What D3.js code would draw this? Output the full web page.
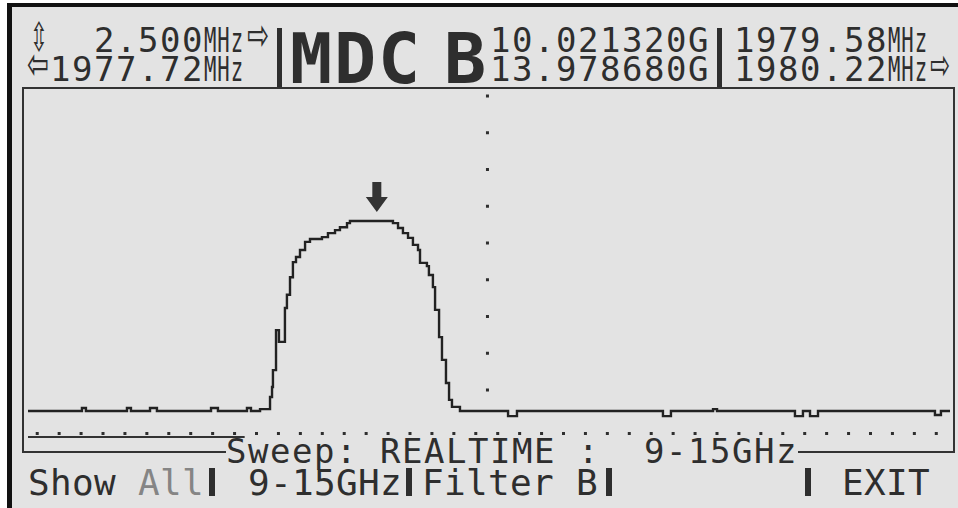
<!DOCTYPE html>
<html>
<head>
<meta charset="utf-8">
<script src="https://cdn.jsdelivr.net/npm/d3@7"></script>
<style>
  body { margin: 0; background: #fff; }
  svg text { font-family: "DejaVu Sans Mono", monospace; white-space: pre; }
</style>
</head>
<body>
<div id="screen"></div>
<script>
// trace breakpoints (frequency GHz, level dB)
var traceFreq = [9.000, 9.351, 9.377, 9.644, 9.670, 9.794, 9.839, 10.191, 10.236, 10.425, 10.451,
  10.510, 10.575, 10.588, 10.594, 10.614, 10.633, 10.672, 10.685, 10.705, 10.724, 10.744, 10.770,
  10.803, 10.835, 10.913, 10.952, 10.998, 11.030, 11.076, 11.095, 11.375, 11.408, 11.440, 11.473,
  11.505, 11.538, 11.551, 11.596, 11.609, 11.635, 11.649, 11.675, 11.694, 11.720, 11.740, 11.759,
  11.811, 12.124, 12.182, 13.132, 13.184, 13.458, 13.484, 13.991, 14.043, 14.089, 14.141, 14.902,
  14.941, 15.000];
var traceLevel = [-95.7, -94.9, -95.7, -94.9, -95.7, -94.9, -95.7, -94.9, -95.7, -94.9, -95.7,
  -95.2, -91.9, -89.2, -84.6, -73.7, -76.9, -67.7, -64.1, -59.3, -55.2, -53.8, -51.9,
  -49.7, -48.9, -48.4, -47.3, -46.5, -45.7, -44.6, -44.0, -44.6, -45.9, -47.3, -48.6,
  -50.5, -51.9, -55.4, -56.3, -58.7, -62.0, -68.2, -75.6, -81.8, -88.1, -92.7, -94.6,
  -95.7, -97.1, -95.7, -97.1, -95.7, -95.2, -95.7, -97.1, -95.7, -97.1, -95.7, -96.8,
  -95.7, -95.7];

var gridLevels = [-10, -20, -30, -40, -50, -60, -70, -80, -90];
var centerFreq = 11.99;
var markerFreq = 11.27;
var sweepTicks = d3.range(42).map(k => 9.06 + k * 0.1427);
var sweepDone = 10.41;   // solid part of the sweep bar

// screen texts
var spanText = "2.500";
var startText = "1977.72";
var markAText = "10.021320G";
var markBText = "13.978680G";
var freqAText = "1979.58";
var freqBText = "1980.22";
var sweepText = "Sweep: REALTIME :  9-15GHz";
var menuItems = ["Show", "All", "9-15GHz", "Filter B", "EXIT"];

var svgWidth = 958;
var svgHeight = 508;
var ink = "#2e2e2e";
var lcd = "#e3e3e3";

var plot = { left: 23, top: 88, right: 954, bottom: 452 };

var svg = d3.select("#screen")
  .append("svg")
  .attr("width", svgWidth)
  .attr("height", svgHeight);

// black bezel on top and left, lcd face
svg.append("rect").attr("x", 7).attr("y", 3).attr("width", svgWidth - 7).attr("height", svgHeight - 3).attr("fill", "#111");
svg.append("rect").attr("x", 12).attr("y", 7).attr("width", svgWidth - 12).attr("height", svgHeight - 7).attr("fill", lcd);

var xScale = d3.scaleLinear().domain([9, 15]).range([28, 950]);
var yScale = d3.scaleLinear().domain([-100, 0]).range([426.75, 59.25]);

// character grid helper, 22px cells starting at x=28
function cell(c) { return 28 + c * 22; }
function txt(str, c, base, size, opts) {
  opts = opts || {};
  var t = svg.append("text")
    .attr("x", opts.x != null ? opts.x : cell(c))
    .attr("y", base)
    .attr("font-size", size)
    .attr("fill", opts.fill || ink)
    .style("letter-spacing", (opts.pitch || 22) - 0.602 * size + "px")
    .text(str);
  if (opts.weight) t.attr("font-weight", opts.weight);
  if (opts.family) t.style("font-family", opts.family).style("letter-spacing", "0px");
  if (opts.len) t.attr("textLength", opts.len).attr("lengthAdjust", "spacingAndGlyphs");
  return t;
}

// header, left block
txt("\u21F3", 0, 51, 40, { family: "DejaVu Sans", x: 30, len: 18 });
txt(spanText, 3, 52, 34);
txt("MHz", 8, 52, 34, { len: 40 });
txt("\u21E8", 10, 50, 44, { family: "DejaVu Sans", x: 247, len: 22 });
txt("\u21E6", 0, 79, 44, { family: "DejaVu Sans", x: 27, len: 22 });
txt(startText, 1, 81, 34);
txt("MHz", 8, 81, 34, { len: 40 });

// separators in the header
svg.append("rect").attr("x", 277).attr("y", 28).attr("width", 5).attr("height", 60).attr("fill", ink);
svg.append("rect").attr("x", 717).attr("y", 28).attr("width", 5).attr("height", 60).attr("fill", ink);

// big title
txt("MDC", 0, 83, 70, { x: 290, pitch: 44, weight: "bold" });
txt("B", 0, 83, 70, { x: 444, pitch: 44, weight: "bold" });

// marker frequencies
txt(markAText, 21, 52, 34);
txt(markBText, 21, 81, 34);
txt(freqAText, 32, 52, 34, { x: 734 });
txt("MHz", 39, 52, 34, { len: 40, x: 888 });
txt(freqBText, 32, 81, 34, { x: 734 });
txt("MHz", 39, 81, 34, { len: 40, x: 888 });
txt("\u21E8", 0, 79, 42, { family: "DejaVu Sans", x: 930, len: 20 });

// plot frame (bottom edge broken by the sweep label)
var frame = svg.append("g").attr("stroke", "#333").attr("stroke-width", 2).attr("fill", "none");
frame.append("path").attr("d",
  `M${plot.left + 203},${plot.bottom} H${plot.left} V${plot.top} H${plot.right} V${plot.bottom} H798`);

// center dotted line
svg.append("g").selectAll("rect")
  .data(gridLevels)
  .enter()
  .append("rect")
  .attr("x", xScale(centerFreq) - 1.5)
  .attr("y", d => yScale(d) - 1.5)
  .attr("width", 3)
  .attr("height", 3)
  .attr("fill", ink);

// sweep progress bar with tick dots
svg.append("line")
  .attr("x1", xScale(9)).attr("x2", xScale(sweepDone))
  .attr("y1", 437).attr("y2", 437)
  .attr("stroke", "#333").attr("stroke-width", 2);
svg.append("g").selectAll("rect")
  .data(sweepTicks)
  .enter()
  .append("rect")
  .attr("x", d => xScale(d) - 1.5)
  .attr("y", 432)
  .attr("width", 3)
  .attr("height", 3)
  .attr("fill", ink);

// spectrum trace
var trace = traceFreq.map((f, i) => ({ f: f, l: traceLevel[i] }));
var traceLine = d3.line()
  .x(d => xScale(d.f))
  .y(d => yScale(d.l))
  .curve(d3.curveStepAfter);
svg.append("path")
  .datum(trace)
  .attr("d", traceLine)
  .attr("fill", "none")
  .attr("stroke", "#222")
  .attr("stroke-width", 2.4);

// peak marker arrow
var peak = d3.max(traceLevel);
var mx = xScale(markerFreq);
var my = yScale(peak) - 9;
svg.append("path")
  .attr("d", `M${mx - 4.5},${my - 30} H${mx + 4.5} V${my - 15} H${mx + 11} L${mx},${my} L${mx - 11},${my - 15} H${mx - 4.5} Z`)
  .attr("fill", "#333");

// sweep label sitting on the frame
txt(sweepText, 9, 463, 34);

// soft-key menu
txt(menuItems[0], 0, 495, 36);
txt(menuItems[1], 5, 495, 36, { fill: "#858585" });
txt(menuItems[2], 10, 495, 36);
txt(menuItems[3], 18, 495, 36, { x: 422 });
txt(menuItems[4], 37, 495, 36);
[209, 406, 606, 805].forEach(function(bx) {
  svg.append("rect").attr("x", bx).attr("y", 468).attr("width", 6).attr("height", 28).attr("fill", ink);
});
</script>
</body>
</html>
